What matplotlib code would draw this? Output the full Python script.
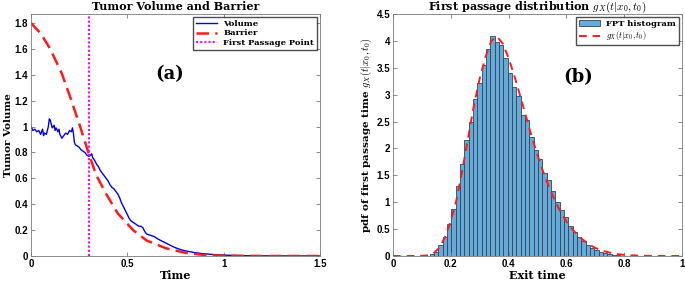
import numpy as np
import matplotlib
matplotlib.use('Agg')
import matplotlib.pyplot as plt

# ---- data (a): tumor volume path, barrier, first passage time
t_vol = [0.00, 0.01, 0.02, 0.03, 0.04, 0.05, 0.06, 0.065, 0.07, 0.08, 0.09, 0.095, 0.10, 0.105,
         0.11, 0.12, 0.125, 0.13, 0.14, 0.145, 0.15, 0.16, 0.17, 0.18, 0.19, 0.20, 0.21, 0.215,
         0.22, 0.225, 0.23, 0.24, 0.25, 0.26, 0.27, 0.28, 0.29, 0.30, 0.31, 0.315, 0.32, 0.33,
         0.34, 0.35, 0.36, 0.37, 0.38, 0.39, 0.40, 0.41, 0.42, 0.43, 0.44, 0.45, 0.46, 0.47,
         0.48, 0.49, 0.50, 0.51, 0.52, 0.53, 0.54, 0.55, 0.56, 0.57, 0.58, 0.59, 0.60, 0.62,
         0.64, 0.66, 0.68, 0.70, 0.72, 0.74, 0.76, 0.78, 0.80, 0.85, 0.90, 0.95, 1.00, 1.05,
         1.10, 1.20, 1.50]
volume = [1.00, 0.97, 0.98, 0.96, 0.97, 0.94, 0.98, 0.93, 0.95, 0.94, 1.00, 1.06, 1.05, 1.02,
          0.99, 1.01, 0.97, 0.99, 0.96, 0.98, 0.94, 0.91, 0.93, 0.95, 0.94, 0.97, 0.96, 0.99,
          0.95, 0.88, 0.86, 0.85, 0.84, 0.82, 0.81, 0.80, 0.78, 0.77, 0.78, 0.79, 0.76, 0.74,
          0.71, 0.69, 0.66, 0.64, 0.62, 0.60, 0.58, 0.55, 0.53, 0.52, 0.50, 0.48, 0.45, 0.41,
          0.38, 0.35, 0.32, 0.29, 0.27, 0.26, 0.25, 0.24, 0.23, 0.23, 0.22, 0.19, 0.17, 0.16,
          0.15, 0.13, 0.115, 0.10, 0.085, 0.07, 0.058, 0.048, 0.04, 0.026, 0.017, 0.011, 0.007, 0.004,
          0.002, 0.001, 0.0]

t_bar = [0.00, 0.05, 0.10, 0.16, 0.21, 0.255, 0.30, 0.34, 0.39, 0.45, 0.53, 0.60, 0.70,
         0.80, 0.90, 1.00, 1.20, 1.50]
barrier = [1.80, 1.72, 1.60, 1.41, 1.20, 1.00, 0.79, 0.62, 0.48, 0.33, 0.20, 0.12, 0.06,
           0.025, 0.008, 0.003, 0.0, 0.0]

t_fp = 0.303

# ---- data (b): FPT histogram and density
bin_first_center = 0.134
bin_width = 0.015
hist_heights = [0.03, 0.08, 0.20, 0.35, 0.60, 0.88, 1.30, 1.72, 2.15, 2.50, 2.92, 3.22,
                3.55, 3.85, 4.10, 3.98, 3.92, 3.68, 3.40, 3.15, 2.98, 2.62, 2.52, 2.22,
                1.98, 1.80, 1.55, 1.42, 1.20, 1.00, 0.85, 0.73, 0.55, 0.45, 0.35, 0.28,
                0.20, 0.15, 0.12, 0.08, 0.05, 0.03, 0.02, 0.01]

t_pdf = [0.00, 0.05, 0.10, 0.12, 0.14, 0.16, 0.18, 0.20, 0.22, 0.24, 0.26, 0.28, 0.30, 0.32,
         0.34, 0.36, 0.38, 0.40, 0.42, 0.44, 0.46, 0.48, 0.50, 0.52, 0.54, 0.56, 0.58, 0.60,
         0.62, 0.64, 0.66, 0.68, 0.70, 0.72, 0.74, 0.76, 0.78, 0.80, 0.85, 0.90, 1.00]
pdf = [0.0, 0.0, 0.003, 0.012, 0.05, 0.15, 0.35, 0.65, 1.05, 1.60, 2.20, 2.80, 3.30, 3.70,
       4.00, 4.08, 3.95, 3.68, 3.35, 2.98, 2.60, 2.22, 1.88, 1.56, 1.28, 1.03, 0.82, 0.64,
       0.50, 0.38, 0.29, 0.21, 0.15, 0.11, 0.075, 0.05, 0.033, 0.02, 0.006, 0.002, 0.0]

# ---- styling
serif = ['DejaVu Serif']
plt.rcParams['font.family'] = ['Liberation Sans', 'DejaVu Sans']
plt.rcParams['mathtext.fontset'] = 'cm'
axis_col = '#7a7a7a'

fig = plt.figure(figsize=(6.85, 2.82), dpi=100)
W, H = 685.0, 282.0
ax1 = fig.add_axes([31 / W, (H - 256) / H, (320 - 31) / W, (256 - 14) / H])
ax2 = fig.add_axes([393 / W, (H - 256) / H, (682 - 393) / W, (256 - 14) / H])


def style(ax):
    for s in ax.spines.values():
        s.set_color(axis_col)
        s.set_linewidth(0.6)
    ax.tick_params(direction='in', top=True, right=True, length=3, width=0.6,
                   color=axis_col, labelsize=7, pad=2)
    for lab in ax.get_xticklabels() + ax.get_yticklabels():
        lab.set_fontweight('bold')


# (a)
ax1.plot(t_vol, volume, color='#0000ee', lw=1.0, label='Volume')
ax1.plot(t_bar, barrier, color='#ff1a1a', lw=1.8, ls=(0, (5, 2.5)), label='Barrier')
ax1.axvline(t_fp, color='#ff00ff', lw=1.5, ls=(0, (1, 1)), label='First Passage Point')
ax1.set_xlim(0, 1.5)
ax1.set_ylim(0, 1.87)
ax1.set_xticks([0, 0.5, 1, 1.5])
ax1.set_xticklabels(['0', '0.5', '1', '1.5'])
ax1.set_yticks(np.arange(0, 1.81, 0.2))
ax1.set_yticklabels(['0', '0.2', '0.4', '0.6', '0.8', '1', '1.2', '1.4', '1.6', '1.8'])
style(ax1)
ax1.set_title('Tumor Volume and Barrier', family=serif, fontweight='bold', fontsize=8, pad=3)
ax1.set_xlabel('Time', family=serif, fontweight='bold', fontsize=8, labelpad=1)
ax1.set_ylabel('Tumor Volume', family=serif, fontweight='bold', fontsize=7.5, labelpad=1)
ax1.text(0.48, 0.75, '(a)', transform=ax1.transAxes, family=serif, fontweight='bold',
         fontsize=13, ha='center', va='center')
leg1 = ax1.legend(loc='upper right', prop={'family': serif, 'weight': 'bold', 'size': 6},
                  frameon=True, fancybox=False, edgecolor='#222222', borderpad=0.3,
                  handlelength=2.5, labelspacing=0.2, borderaxespad=0.4)
leg1.get_frame().set_linewidth(1.0)

# (b)
centers = bin_first_center + bin_width * np.arange(len(hist_heights))
bars = ax2.bar(centers, hist_heights, width=bin_width, color='#66aad7', edgecolor='#2e4560',
               linewidth=0.6, label='FPT histogram')
line, = ax2.plot(t_pdf, pdf, color='#ff1a1a', lw=1.4, ls=(0, (4, 3)), label='$g_X(t|x_0,t_0)$')
ax2.set_xlim(0, 1)
ax2.set_ylim(0, 4.5)
ax2.set_xticks([0, 0.2, 0.4, 0.6, 0.8, 1])
ax2.set_xticklabels(['0', '0.2', '0.4', '0.6', '0.8', '1'])
ax2.set_yticks(np.arange(0, 4.51, 0.5))
ax2.set_yticklabels(['0', '0.5', '1', '1.5', '2', '2.5', '3', '3.5', '4', '4.5'])
style(ax2)
ax2.set_title('First passage distribution $g_X(t|x_0,t_0)$', family=serif,
              fontweight='bold', fontsize=8, pad=3)
ax2.set_xlabel('Exit time', family=serif, fontweight='bold', fontsize=8, labelpad=1)
ax2.set_ylabel('pdf of first passage time $g_X(t|x_0,t_0)$', family=serif,
               fontweight='bold', fontsize=7.5, labelpad=2)
ax2.text(0.64, 0.74, '(b)', transform=ax2.transAxes, family=serif, fontweight='bold',
         fontsize=13, ha='center', va='center')
leg2 = ax2.legend([bars, line], ['FPT histogram', '$g_X(t|x_0,t_0)$'], loc='upper right',
                  prop={'family': serif, 'weight': 'bold', 'size': 6},
                  frameon=True, fancybox=False, edgecolor='#222222', borderpad=0.3,
                  handlelength=2.5, labelspacing=0.2, borderaxespad=0.4)
leg2.get_frame().set_linewidth(1.0)

fig.savefig('out.png', dpi=100)
